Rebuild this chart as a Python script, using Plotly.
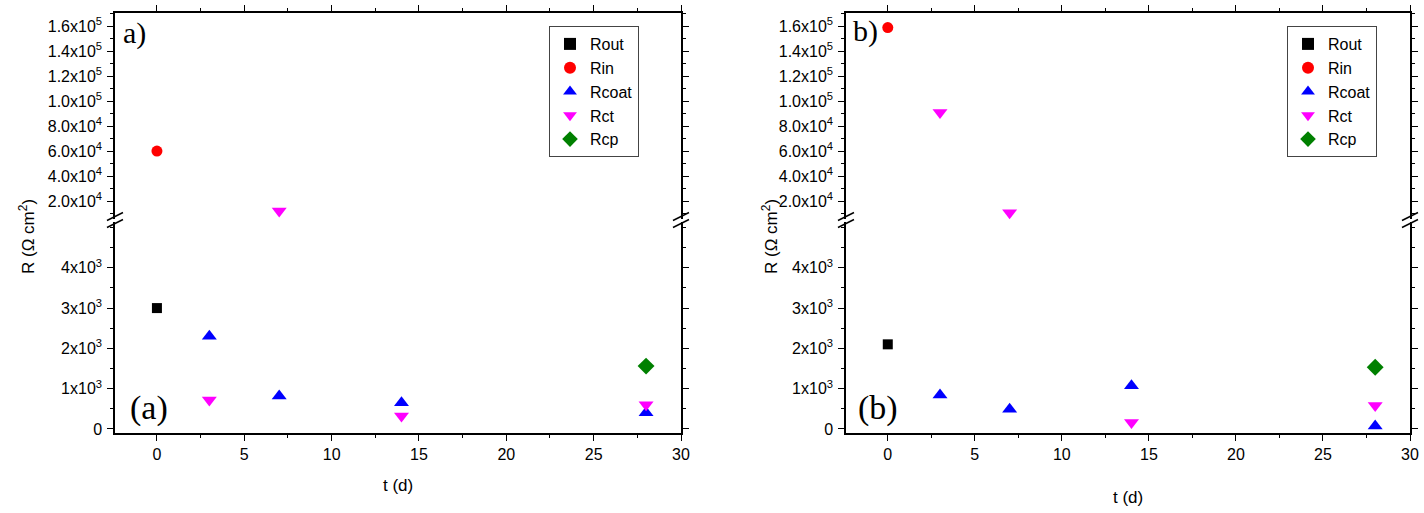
import plotly.graph_objects as go

W, H = 1424, 513

# ---------------- data ----------------
# panel a
rout_a_t = [0];            rout_a = [3000]
rin_a_t = [0];             rin_a = [60000]
rcoat_a_t = [3, 7, 14, 28]; rcoat_a = [2300, 820, 650, 400]
rct_a_t = [3, 7, 14, 28];   rct_a = [720, 12000, 320, 600]
rcp_a_t = [28];            rcp_a = [1560]
# panel b
rout_b_t = [0];            rout_b = [2100]
rin_b_t = [0];             rin_b = [159000]
rcoat_b_t = [3, 7, 14, 28]; rcoat_b = [840, 490, 1070, 75]
rct_b_t = [3, 7, 14, 28];   rct_b = [91000, 10600, 160, 580]
rcp_b_t = [28];            rcp_b = [1530]

x_ticks = [0, 5, 10, 15, 20, 25, 30]
low_ticks = [0, 1000, 2000, 3000, 4000]
low_text = ["0", "1x10<sup>3</sup>", "2x10<sup>3</sup>", "3x10<sup>3</sup>", "4x10<sup>3</sup>"]
up_ticks = [20000, 40000, 60000, 80000, 100000, 120000, 140000, 160000]
up_text = ["2.0x10<sup>4</sup>", "4.0x10<sup>4</sup>", "6.0x10<sup>4</sup>", "8.0x10<sup>4</sup>",
           "1.0x10<sup>5</sup>", "1.2x10<sup>5</sup>", "1.4x10<sup>5</sup>", "1.6x10<sup>5</sup>"]
BREAK = 5000

styles = {
    "Rout": dict(symbol="square", color="black", size=10),
    "Rin": dict(symbol="circle", color="red", size=11),
    "Rcoat": dict(symbol="triangle-up", color="blue", size=13),
    "Rct": dict(symbol="triangle-down", color="magenta", size=13),
    "Rcp": dict(symbol="diamond", color="#008000", size=13),
}

panels = [
    dict(series=[("Rout", rout_a_t, rout_a), ("Rin", rin_a_t, rin_a), ("Rcoat", rcoat_a_t, rcoat_a),
                 ("Rct", rct_a_t, rct_a), ("Rcp", rcp_a_t, rcp_a)],
         xlow="x", ylow="y", xup="x2", yup="y2", legend="legend"),
    dict(series=[("Rout", rout_b_t, rout_b), ("Rin", rin_b_t, rin_b), ("Rcoat", rcoat_b_t, rcoat_b),
                 ("Rct", rct_b_t, rct_b), ("Rcp", rcp_b_t, rcp_b)],
         xlow="x3", ylow="y3", xup="x4", yup="y4", legend="legend2"),
]

fig = go.Figure()
for p in panels:
    for rank, (name, ts, vs) in enumerate(p["series"]):
        st = styles[name]
        lo_t = [t for t, v in zip(ts, vs) if v < BREAK]
        lo_v = [v for v in vs if v < BREAK]
        hi_t = [t for t, v in zip(ts, vs) if v >= BREAK]
        hi_v = [v for v in vs if v >= BREAK]
        parts = [(lo_t, lo_v, p["xlow"], p["ylow"]), (hi_t, hi_v, p["xup"], p["yup"])]
        shown = False
        for pt, pv, xa, ya in parts:
            if not pt:
                continue
            fig.add_trace(go.Scatter(x=pt, y=pv, mode="markers", name=name,
                                     marker=dict(symbol=st["symbol"], color=st["color"],
                                                 size=st["size"], line=dict(width=0)),
                                     xaxis=xa, yaxis=ya, legend=p["legend"],
                                     legendrank=rank + 1,
                                     showlegend=not shown, cliponaxis=False))
            shown = True

def px(x):
    return x / W

def py(y):
    return 1 - y / H

FONT = "Arial, Liberation Sans, sans-serif"
SERIF = "Times New Roman, Liberation Serif, serif"
tickfont = dict(family=FONT, size=16, color="black")

y_bot, y_low_top, y_up_bot, y_top = 433, 222, 219, 13
panel_x = [(115, 681), (846, 1410)]

common_x = dict(range=[-2.4, 30], showline=True, linecolor="black", linewidth=1.5,
                ticks="outside", ticklen=6, tickwidth=1.2, tickcolor="black",
                minor=dict(dtick=2.5, ticks="outside", ticklen=3, tickcolor="black"),
                showgrid=False, zeroline=False, automargin=False)
common_y = dict(showline=True, linecolor="black", linewidth=1.5, ticks="outside", ticklen=6,
                tickwidth=1.2, tickcolor="black", mirror="allticks", showgrid=False,
                zeroline=False, automargin=False, tickfont=tickfont, ticklabelstandoff=2)

layout = {}
for i, (x0, x1) in enumerate(panel_x):
    n = 2 * i + 1
    xl = "xaxis" if n == 1 else f"xaxis{n}"
    xu = f"xaxis{n+1}"
    yl = "yaxis" if n == 1 else f"yaxis{n}"
    yu = f"yaxis{n+1}"
    ylow_id = "y" if n == 1 else f"y{n}"
    yup_id = f"y{n+1}"
    xlow_id = "x" if n == 1 else f"x{n}"
    layout[xl] = dict(common_x, domain=[px(x0), px(x1)], anchor=ylow_id,
                      tickvals=x_ticks, tickfont=tickfont)
    layout[xu] = dict(common_x, domain=[px(x0), px(x1)], anchor=yup_id, side="top",
                      matches=xlow_id, tickvals=x_ticks, showticklabels=False)
    layout[yl] = dict(common_y, domain=[py(y_bot), py(y_low_top)], anchor=xlow_id,
                      range=[-100, 5136], tickvals=low_ticks, ticktext=low_text,
                      minor=dict(dtick=500, tick0=0, ticks="outside", ticklen=3, tickcolor="black"))
    layout[yu] = dict(common_y, domain=[py(y_up_bot), py(y_top)], anchor=f"x{n+1}",
                      range=[5600, 170640], tickvals=up_ticks, ticktext=up_text,
                      minor=dict(dtick=10000, tick0=0, ticks="outside", ticklen=3, tickcolor="black"))

fig.update_layout(**layout)

# break marks on left and right axes
shapes = []
for x0, x1 in panel_x:
    for xa in (x0, x1):
        for yb in (216.5, 223.5):
            shapes.append(dict(type="line", xref="paper", yref="paper",
                               x0=px(xa - 8), y0=py(yb + 4), x1=px(xa + 8), y1=py(yb - 4),
                               line=dict(color="black", width=1.5)))
fig.update_layout(shapes=shapes)

annotations = [
    dict(text="R (\u03a9 cm<sup>2</sup>)", x=px(27), y=py(237), textangle=-90,
         font=dict(family=FONT, size=17, color="black")),
    dict(text="R (\u03a9 cm<sup>2</sup>)", x=px(770), y=py(237), textangle=-90,
         font=dict(family=FONT, size=17, color="black")),
    dict(text="t (d)", x=px(398), y=py(485), font=dict(family=FONT, size=17, color="black")),
    dict(text="t (d)", x=px(1128), y=py(497), font=dict(family=FONT, size=17, color="black")),
    dict(text="a)", x=px(134), y=py(33), font=dict(family=SERIF, size=30, color="black")),
    dict(text="b)", x=px(865), y=py(31), font=dict(family=SERIF, size=30, color="black")),
    dict(text="(a)", x=px(149), y=py(408), font=dict(family=SERIF, size=34, color="black")),
    dict(text="(b)", x=px(878), y=py(408), font=dict(family=SERIF, size=34, color="black")),
]
for a in annotations:
    a.update(xref="paper", yref="paper", showarrow=False, xanchor="center", yanchor="middle")
fig.update_layout(annotations=annotations)

legend_style = dict(bordercolor="#444", borderwidth=1, bgcolor="white",
                    font=dict(family=FONT, size=16, color="black"),
                    xanchor="left", yanchor="top", itemsizing="constant", tracegroupgap=0,
                    traceorder="normal")
fig.update_layout(
    legend=dict(legend_style, x=px(549), y=py(26)),
    legend2=dict(legend_style, x=px(1287), y=py(26)),
)

fig.update_layout(width=W, height=H, margin=dict(l=0, r=0, t=0, b=0),
                  paper_bgcolor="white", plot_bgcolor="white", template="none")

fig.write_html("out.html", config={"displayModeBar": False},
               post_script="document.body.style.margin='0px';")
